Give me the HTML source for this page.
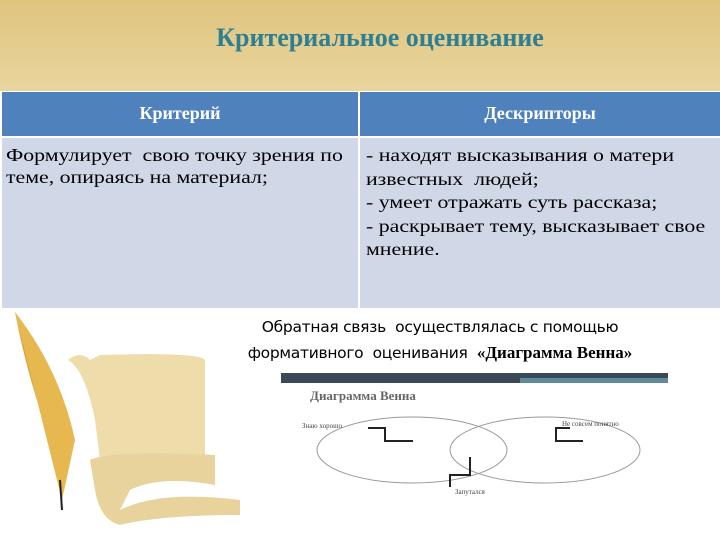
<!DOCTYPE html>
<html><head><meta charset="utf-8"><style>
body{margin:0;width:720px;height:540px;overflow:hidden;background:#fff;position:relative;font-family:"Liberation Serif",serif}
.a{position:absolute}
.s{transform:scaleX(1.2);transform-origin:0 0}
</style></head><body>
<div class="a" style="left:0;top:0;width:720px;height:91px;background:linear-gradient(#dfc47e,#e9d59e)"></div>
<div class="a" style="left:0;top:23px;width:760px;text-align:center;font-size:26px;font-weight:bold;color:#2e7f93">Критериальное оценивание</div>
<div class="a" style="left:2px;top:92px;width:356px;height:44px;background:#4f81bd"></div>
<div class="a" style="left:360px;top:92px;width:360px;height:44px;background:#4f81bd"></div>
<div class="a" style="left:2px;top:103px;width:356px;text-align:center;color:#fff;font-weight:bold;font-size:18px">Критерий</div>
<div class="a" style="left:360px;top:103px;width:360px;text-align:center;color:#fff;font-weight:bold;font-size:18px">Дескрипторы</div>
<div class="a" style="left:2px;top:138px;width:356px;height:170px;background:#d0d8e8"></div>
<div class="a" style="left:360px;top:138px;width:360px;height:170px;background:#d0d8e8"></div>
<div class="a s" style="left:6px;top:144px;white-space:nowrap;font-size:18.2px;line-height:22px">Формулирует&nbsp; свою точку зрения по<br>теме, опираясь на материал;</div>
<div class="a s" style="left:366px;top:144px;white-space:nowrap;font-size:18.2px;line-height:23.5px">- находят высказывания о матери<br>известных&nbsp; людей;<br>- умеет отражать суть рассказа;<br>- раскрывает тему, высказывает свое<br>мнение.</div>
<div class="a" style="left:190px;top:314px;width:500px;text-align:center;font-family:'DejaVu Sans',sans-serif;font-size:15.5px;line-height:26px;letter-spacing:-0.3px">Обратная связь&nbsp; осуществлялась с помощью<br>формативного&nbsp; оценивания&nbsp; <b style="font-family:'Liberation Serif',serif;font-size:17px;letter-spacing:0">«Диаграмма Венна»</b></div>
<svg class="a" style="left:0;top:300px" width="720" height="240">
<path d="M15 12 Q40 60 58 150 L62 200 L55 150 Q30 90 15 12Z" fill="#d9a53a"/>
<path d="M15 12 Q60 70 75 140 L62 200Z" fill="#e8b850"/>
<line x1="60" y1="180" x2="62" y2="210" stroke="#222" stroke-width="2"/>
<path d="M68 60 Q80 50 90 60 L100 55 Q200 52 205 60 L205 160 Q150 150 100 160 L95 120 Q85 70 68 60Z" fill="#eedcaa"/>
<path d="M90 160 Q110 150 215 155 L215 185 Q160 175 130 190 L120 210 Q160 190 240 200 L240 215 Q160 215 120 225 Q100 220 95 190Z" fill="#e8d39c"/>
<rect x="281" y="73" width="387" height="10" fill="#3a4858"/>
<rect x="520" y="78" width="148" height="5" fill="#5f8a9a"/>
<text x="310" y="100" font-family="Liberation Serif" font-size="13" font-weight="bold" fill="#666">Диаграмма Венна</text>
<ellipse cx="412" cy="150" rx="95" ry="33" fill="none" stroke="#999" stroke-width="1"/>
<ellipse cx="545" cy="150" rx="95" ry="33" fill="none" stroke="#999" stroke-width="1"/>
<path d="M413 141 L385 141 L385 128 L368 128" fill="none" stroke="#222" stroke-width="2"/>
<path d="M583 141 L555 141" stroke="#222" stroke-width="2"/>
<path d="M556 141 L556 128 L570 128" fill="none" stroke="#222" stroke-width="2"/>
<path d="M470 157 L470 175 L450 175 L450 187" fill="none" stroke="#222" stroke-width="2"/>
<text x="302" y="128" font-size="7" font-family="Liberation Serif" fill="#444">Знаю хорошо</text>
<text x="562" y="126" font-size="7" font-family="Liberation Serif" fill="#444">Не совсем понятно</text>
<text x="455" y="194" font-size="7" font-family="Liberation Serif" fill="#444">Запутался</text>
</svg>
</body></html>
